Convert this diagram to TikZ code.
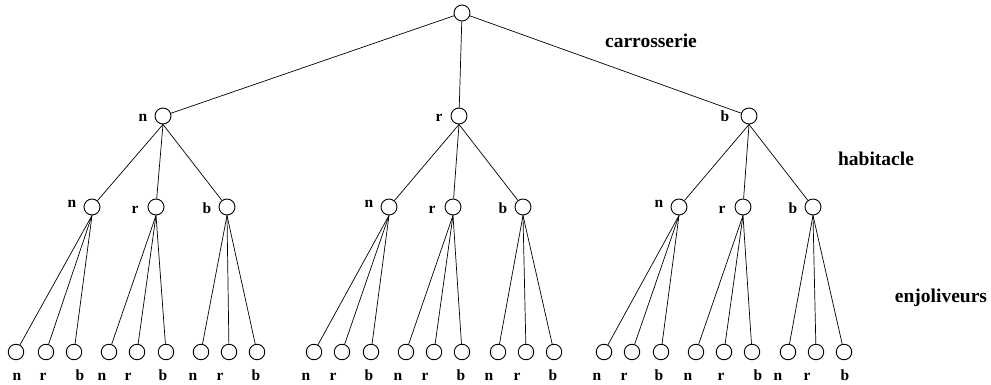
\documentclass[tikz,border=0pt]{standalone}
\usepackage{fontspec}
\setmainfont{Liberation Serif}
\begin{document}
\begin{tikzpicture}[x=1pt,y={(0pt,-1pt)},
  vtx/.style={draw,circle,minimum size=16pt,inner sep=0pt,line width=0.9pt},
  leaf/.style={draw,circle,minimum size=15.5pt,inner sep=0pt,line width=0.9pt},
  edge/.style={line width=0.7pt},
  lab/.style={inner sep=0pt,anchor=base,font=\fontsize{15.5}{16}\selectfont\bfseries},
  head/.style={inner sep=0pt,anchor=base,font=\fontsize{19.5}{20}\selectfont\bfseries}]
\useasboundingbox (0,0) rectangle (991,385);
% root and level 1
\node[vtx] (R) at (462,13) {};
\node[vtx] (A) at (163,116) {};
\node[vtx] (B) at (459,116) {};
\node[vtx] (C) at (749,116) {};
\node[lab] (la) at (143,121.5) {n};
\node[lab] (lb) at (439,121.5) {r};
\node[lab] (lc) at (725,121.5) {b};
\draw[edge] (R) -- (A);
\draw[edge] (R) -- (B);
\draw[edge] (R) -- (C);
% headings
\node[head] (h1) at (651,47.5) {carrosserie};
\node[head] (h2) at (876,165) {habitacle};
\node[head] (h3) at (941,302.5) {enjoliveurs};
% level 2
\foreach \p/\xa/\xb/\xc/\g in {A/92/156/227/1,B/389/453/523/2,C/679/743/813/3}{
  \node[vtx] (\g n) at (\xa,207) {};
  \node[vtx] (\g r) at (\xb,207) {};
  \node[vtx] (\g b) at (\xc,207) {};
  \node[lab] (l\g n) at (\xa-20,207.5) {n};
  \node[lab] (l\g r) at (\xb-21,213) {r};
  \node[lab] (l\g b) at (\xc-20,213) {b};
  \draw[edge] (\p.south) -- (\g n);
  \draw[edge] (\p.south) -- (\g r);
  \draw[edge] (\p.south) -- (\g b);
}
% leaves
\foreach \m/\xa/\xb/\xc/\ta/\tb/\tc in {
  1n/16/46/74/17/43/80, 1r/109/137/166/102/128/163, 1b/201/229/257/193/220/256,
  2n/314/342/371/306/333/369, 2r/406/434/462/398/425/461, 2b/498/526/554/489/517/553,
  3n/604/632/661/597/624/659, 3r/696/724/752/688/721/758, 3b/788/816/844/778/807/845}{
  \node[leaf] (\m n) at (\xa,352) {};
  \node[leaf] (\m r) at (\xb,352) {};
  \node[leaf] (\m b) at (\xc,352) {};
  \node[lab] (t\m n) at (\ta,380) {n};
  \node[lab] (t\m r) at (\tb,380) {r};
  \node[lab] (t\m b) at (\tc,380) {b};
  \draw[edge] (\m.south) -- (\m n);
  \draw[edge] (\m.south) -- (\m r);
  \draw[edge] (\m.south) -- (\m b);
}
\end{tikzpicture}
\end{document}
